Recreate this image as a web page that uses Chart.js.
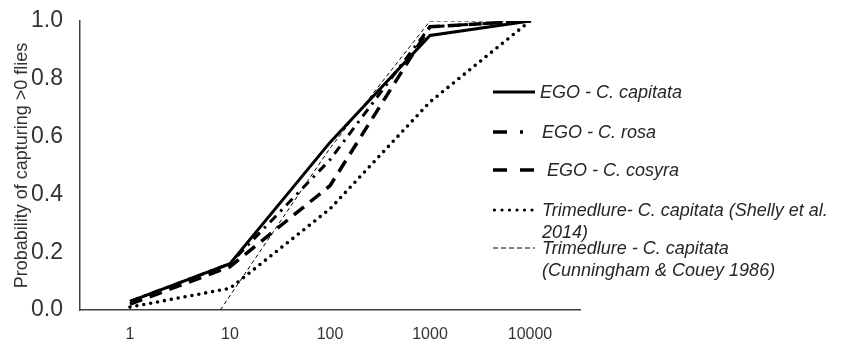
<!DOCTYPE html>
<html>
<head>
<meta charset="utf-8">
<script src="https://cdn.jsdelivr.net/npm/chart.js@4/dist/chart.umd.min.js"></script>
<style>
  html, body { margin: 0; padding: 0; background: #fff; }
  #wrap { position: relative; width: 852px; height: 341px; overflow: hidden; }
  #c { position: absolute; left: 0; top: 0; }
  .leg { position: absolute; font-family: "Liberation Sans", Arial, sans-serif; font-style: italic; font-size: 18px; color: #262626; line-height: 22px; white-space: nowrap; }
  .sw { position: absolute; left: 493px; }
</style>
</head>
<body>
<div id="wrap">
  <canvas id="c" width="852" height="341"></canvas>
  <svg class="sw" style="top:87px" width="44" height="10"><line x1="0" y1="5" x2="42" y2="5" stroke="#000" stroke-width="3"/></svg>
  <div class="leg" style="left:540px; top:81px;">EGO - C. capitata</div>
  <svg class="sw" style="top:127px" width="44" height="10"><line x1="0" y1="5" x2="42" y2="5" stroke="#000" stroke-width="3.5" stroke-dasharray="14,13,3,100"/></svg>
  <div class="leg" style="left:542px; top:121px;">EGO - C. rosa</div>
  <svg class="sw" style="top:165px" width="44" height="10"><line x1="0" y1="5" x2="42" y2="5" stroke="#000" stroke-width="3.5" stroke-dasharray="14,13"/></svg>
  <div class="leg" style="left:547px; top:159px;">EGO - C. cosyra</div>
  <svg class="sw" style="top:205px" width="44" height="10"><line x1="1.5" y1="5" x2="42" y2="5" stroke="#000" stroke-width="3.2" stroke-linecap="round" stroke-dasharray="0,7.5"/></svg>
  <div class="leg" style="left:542px; top:199px;">Trimedlure- C. capitata (Shelly et al.<br>2014)</div>
  <svg class="sw" style="top:243px" width="44" height="10"><line x1="0" y1="5" x2="42" y2="5" stroke="#000" stroke-width="1" stroke-dasharray="5,3"/></svg>
  <div class="leg" style="left:542px; top:237px;">Trimedlure - C. capitata<br>(Cunningham &amp; Couey 1986)</div>
</div>
<script>
// Fly density (x categories, log scale)
const densities = [1, 10, 100, 1000, 10000];
const tickLabels = ["1", "10", "100", "1000", "10000"];
const yTicks = [0, 0.2, 0.4, 0.6, 0.8, 1.0];

// Series values (probability of capturing >0 flies)
const egoCapitata = [0.03, 0.16, 0.58, 0.95, 1.0];
const egoRosa     = [0.03, 0.16, 0.52, 0.98, 1.0];
const egoCosyra   = [0.02, 0.15, 0.43, 0.98, 1.0];
const shelly      = [0.01, 0.075, 0.35, 0.72, 1.0];
const cunninghamX = [8, 100, 1000, 10000];
const cunningham  = [0.0, 0.56, 1.0, 1.0];

const pts = (xs, ys) => xs.map((x, i) => ({ x: x, y: ys[i] }));

const textColor = '#333333';
const axisColor = '#404040';

new Chart(document.getElementById('c'), {
  type: 'line',
  data: {
    datasets: [
      { label: 'Trimedlure - C. capitata (Cunningham & Couey 1986)', data: pts(cunninghamX, cunningham),
        borderColor: '#000', borderWidth: 1, borderDash: [4, 3], pointRadius: 0, fill: false },
      { label: 'Trimedlure- C. capitata (Shelly et al. 2014)', data: pts(densities, shelly),
        borderColor: '#000', borderWidth: 3.6, borderDash: [0, 7], borderCapStyle: 'round', pointRadius: 0, fill: false },
      { label: 'EGO - C. cosyra', data: pts(densities, egoCosyra),
        borderColor: '#000', borderWidth: 3.5, borderDash: [13, 8], pointRadius: 0, fill: false },
      { label: 'EGO - C. rosa', data: pts(densities, egoRosa),
        borderColor: '#000', borderWidth: 3, borderDash: [9, 6, 2.5, 6], pointRadius: 0, fill: false },
      { label: 'EGO - C. capitata', data: pts(densities, egoCapitata),
        borderColor: '#000', borderWidth: 3, pointRadius: 0, fill: false }
    ]
  },
  options: {
    responsive: false,
    animation: false,
    devicePixelRatio: 1,
    layout: { padding: { top: 21, right: 272, bottom: 0, left: 0 } },
    plugins: { legend: { display: false }, tooltip: { enabled: false } },
    elements: { line: { tension: 0 } },
    scales: {
      x: {
        type: 'logarithmic',
        bounds: 'data',
        min: Math.pow(10, -0.5),
        max: Math.pow(10, 4.5),
        grid: { display: false, drawTicks: false },
        border: { display: true, color: axisColor, width: 1.5 },
        afterBuildTicks: (scale) => { scale.ticks = densities.map(v => ({ value: v })); },
        afterFit: (scale) => { scale.height = 31; scale.paddingLeft = 0; scale.paddingRight = 0; },
        ticks: {
          autoSkip: false, maxRotation: 0, padding: 15,
          color: textColor,
          font: { family: '"Liberation Sans", Arial, sans-serif', size: 16 },
          callback: (v) => { const i = densities.indexOf(v); return i >= 0 ? tickLabels[i] : ''; }
        }
      },
      y: {
        type: 'linear',
        min: 0, max: 1,
        grid: { display: false, drawTicks: false },
        border: { display: true, color: axisColor, width: 1.5 },
        afterBuildTicks: (scale) => { scale.ticks = yTicks.map(v => ({ value: v })); },
        afterFit: (scale) => { scale.width = 80; scale.paddingTop = 0; scale.paddingBottom = 0; },
        ticks: {
          padding: 17,
          color: textColor,
          font: { family: '"Liberation Sans", Arial, sans-serif', size: 23 },
          callback: (v) => Number(v).toFixed(1)
        },
        title: {
          display: true,
          text: 'Probability of capturing >0 flies',
          color: textColor,
          padding: { top: 11, bottom: 0 },
          font: { family: '"Liberation Sans", Arial, sans-serif', size: 18 }
        }
      }
    }
  }
});
</script>
</body>
</html>
